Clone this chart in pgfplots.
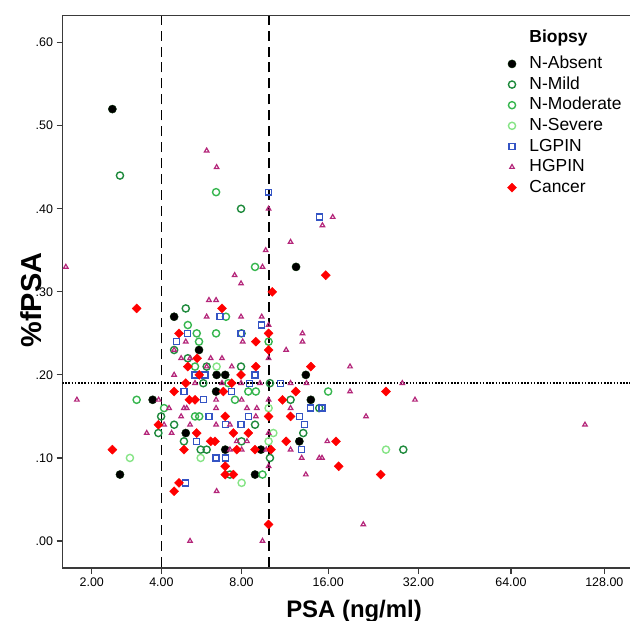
\documentclass[border=0pt]{standalone}
\usepackage{pgfplots}
\pgfplotsset{compat=1.18}
\usepackage{fontspec}
\setmainfont{Liberation Sans}

\definecolor{axgray}{HTML}{3A3A3A}
\definecolor{nmild}{HTML}{1E8A3C}
\definecolor{nmod}{HTML}{36B64E}
\definecolor{nsev}{HTML}{86E486}
\definecolor{lgpin}{HTML}{3454C4}
\definecolor{hgpin}{HTML}{B4267A}
\definecolor{cancer}{HTML}{FF0000}

\begin{document}
\begin{tikzpicture}
\begin{axis}[
    scale only axis,
    width=567.5bp, height=552.5bp,
    % x axis is log(PSA+1), SPSS style
    x filter/.expression={ln(x+1)},
    xmin=0.8838, xmax=5.048,
    ymin=-0.0325, ymax=0.6327,
    axis lines*=left,
    axis line style={axgray, line width=1.4pt},
    tick style={axgray, line width=1.2pt},
    tick align=outside,
    major tick length=6pt,
    xtick={1.0986,1.6094,2.1972,2.8332,3.4965,4.1744,4.8598},
    xticklabels={2.00,4.00,8.00,16.00,32.00,64.00,128.00},
    ytick={0,0.1,0.2,0.3,0.4,0.5,0.6},
    yticklabels={.00,.10,.20,.30,.40,.50,.60},
    ticklabel style={font=\fontsize{12.5}{14}\selectfont},
    xlabel={\textbf{PSA (ng/ml)}},
    ylabel={\textbf{\%fPSA}},
    xlabel style={font=\fontsize{24}{28}\selectfont, at={(axis description cs:0.5137,0)}, anchor=base, yshift=-49bp},
    ylabel style={font=\fontsize{29}{33}\selectfont, at={(axis description cs:0,0.485)}, anchor=center, yshift=31bp},
    legend style={draw=none, fill=none, font=\fontsize{17.5}{20}\selectfont,
        at={(axis description cs:0.7715,0.982)}, anchor=north west,
        row sep=1.2pt, nodes={inner sep=2pt, text height=12.5pt, text depth=3pt},
        /tikz/every odd column/.append style={column sep=11pt}},
    legend cell align=left,
]
% reference lines
\addplot[forget plot, black, line width=1.4pt, dash pattern=on 10pt off 6pt] coordinates {(4,-0.05) (4,0.7)};
\addplot[forget plot, black, line width=1.4pt, dash pattern=on 10pt off 6pt] coordinates {(10,-0.05) (10,0.7)};
\addplot[forget plot, black, line width=1.5pt, dash pattern=on 1.6pt off 1.6pt] coordinates {(1,0.19) (200,0.19)};

\addlegendimage{empty legend}
\addlegendentry[text depth=9pt]{\textbf{Biopsy}}

\addplot[only marks, mark=*, mark size=4.1pt, mark options={fill=black, draw=black!85!green}] coordinates {
(2.49,0.52) (4.49,0.27) (5.59,0.23) (6.50,0.20) (6.99,0.20) (6.47,0.18) (3.69,0.17) (4.98,0.13)
(6.99,0.11) (2.69,0.08) (8.94,0.08) (9.38,0.11) (12.43,0.33) (13.43,0.20) (13.97,0.17) (12.76,0.12)};
\addlegendentry{N-Absent}

\addplot[only marks, mark=o, mark size=3.6pt, mark options={draw=nmild, line width=1.4pt}] coordinates {
(2.69,0.44) (7.97,0.40) (4.98,0.28) (8.00,0.25) (4.49,0.23) (5.07,0.22) (5.97,0.21) (7.97,0.21)
(5.80,0.19) (10.09,0.19) (11.90,0.17) (14.92,0.16) (3.99,0.15) (4.49,0.14) (8.94,0.14) (3.89,0.13)
(13.16,0.13) (4.90,0.12) (8.00,0.12) (5.67,0.11) (5.97,0.11) (28.5,0.11) (10.09,0.10) (7.27,0.08)};
\addlegendentry{N-Mild}

\addplot[only marks, mark=o, mark size=3.6pt, mark options={draw=nmod, line width=1.4pt}] coordinates {
(6.47,0.42) (8.94,0.33) (7.03,0.27) (5.07,0.26) (5.48,0.25) (6.47,0.25) (5.59,0.24) (9.98,0.24)
(5.40,0.21) (7.17,0.19) (8.46,0.18) (9.00,0.18) (16.0,0.18) (7.58,0.17) (3.17,0.17) (4.10,0.16)
(5.40,0.15) (5.60,0.15) (9.50,0.08)};
\addlegendentry{N-Moderate}

\addplot[only marks, mark=o, mark size=3.6pt, mark options={draw=nsev, line width=1.4pt}] coordinates {
(6.50,0.21) (9.98,0.16) (10.37,0.13) (9.98,0.12) (2.97,0.10) (5.67,0.10) (8.01,0.07) (24.98,0.11)};
\addlegendentry{N-Severe}

\addplot[only marks, mark=square, mark size=3.0pt, mark options={draw=lgpin, line width=1.3pt}] coordinates {
(9.98,0.42) (14.92,0.39) (6.69,0.27) (9.44,0.26) (5.07,0.25) (7.97,0.25) (4.58,0.24) (5.40,0.20)
(5.89,0.20) (8.94,0.20) (8.53,0.19) (10.97,0.19) (4.90,0.18) (7.38,0.18) (5.80,0.17) (13.97,0.16)
(15.25,0.16) (6.09,0.15) (8.46,0.15) (12.76,0.15) (6.99,0.14) (7.97,0.14) (13.27,0.14) (5.48,0.12)
(13.0,0.11) (6.47,0.10) (6.99,0.10) (4.98,0.07)};
\addlegendentry{LGPIN}

\addplot[only marks, mark=triangle, mark size=2.6pt, mark options={draw=hgpin, line width=1.2pt}] coordinates {
(1.48,0.33) (5.97,0.47) (6.50,0.45) (9.98,0.40) (16.58,0.39) (15.3,0.38) (11.9,0.36) (9.75,0.35)
(9.50,0.33) (7.56,0.32) (7.97,0.31) (6.09,0.29) (6.47,0.29) (5.97,0.27) (7.97,0.27) (9.44,0.27)
(9.98,0.26) (4.98,0.24) (8.08,0.24) (13.08,0.25) (13.08,0.24) (11.49,0.23) (4.49,0.23) (4.78,0.22)
(5.17,0.22) (6.18,0.22) (6.80,0.22) (9.98,0.22) (5.97,0.21) (7.38,0.21) (18.96,0.21) (4.49,0.20)
(5.40,0.19) (6.80,0.19) (7.97,0.19) (9.31,0.19) (11.9,0.19) (13.5,0.19) (28.29,0.19) (18.96,0.18)
(31.15,0.17) (1.69,0.17) (3.90,0.17) (6.47,0.17) (8.01,0.17) (9.98,0.17) (4.29,0.16) (4.90,0.16)
(5.02,0.16) (6.47,0.16) (8.37,0.16) (9.07,0.16) (11.9,0.16) (4.78,0.15) (9.00,0.15) (21.44,0.15)
(4.10,0.14) (5.17,0.14) (6.47,0.14) (7.27,0.14) (3.49,0.13) (4.39,0.13) (9.98,0.13) (7.69,0.12)
(8.37,0.12) (15.89,0.12) (7.27,0.11) (8.01,0.11) (9.80,0.11) (11.9,0.11) (13.0,0.10) (14.92,0.10)
(15.25,0.10) (9.98,0.09) (13.43,0.08) (6.50,0.06) (5.17,0.00) (9.50,0.00) (21.0,0.02) (110.9,0.14)};
\addlegendentry{HGPIN}

\addplot[only marks, mark=square*, mark size=3.2pt, mark options={fill=cancer, draw=cancer, rotate=45}] coordinates {
(3.17,0.28) (6.80,0.28) (4.69,0.25) (9.00,0.24) (10.28,0.30) (15.70,0.32) (9.98,0.25) (9.98,0.23)
(5.50,0.22) (5.07,0.21) (9.00,0.21) (13.97,0.21) (7.97,0.20) (5.60,0.20) (4.98,0.19) (7.38,0.19)
(4.49,0.18) (6.88,0.18) (12.40,0.18) (24.98,0.18) (11.16,0.17) (5.14,0.17) (5.40,0.17) (6.99,0.15)
(9.98,0.15) (11.9,0.15) (3.89,0.14) (5.48,0.13) (7.48,0.13) (8.46,0.13) (6.18,0.12) (6.41,0.12)
(11.49,0.12) (17.01,0.12) (2.49,0.11) (4.90,0.11) (7.69,0.11) (8.94,0.11) (10.18,0.11) (6.99,0.09)
(17.37,0.09) (6.99,0.08) (7.48,0.08) (24.0,0.08) (4.69,0.07) (4.49,0.06) (9.98,0.02)};
\addlegendentry{Cancer}
\end{axis}
\draw[axgray, line width=1.4pt] (current axis.north west) -- (current axis.north east);
\pgfresetboundingbox
\path[use as bounding box] ([xshift=-62.5bp,yshift=-53bp]current axis.south west) rectangle ([yshift=15.5bp]current axis.north east);
\end{tikzpicture}
\end{document}
